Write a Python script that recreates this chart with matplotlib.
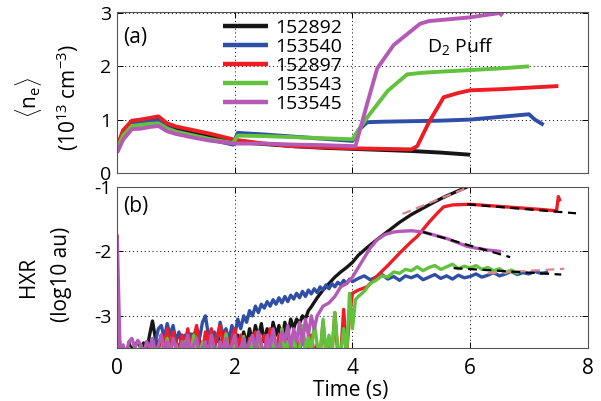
import numpy as np
import matplotlib
matplotlib.use("Agg")
import matplotlib.pyplot as plt

plt.rcParams['font.family'] = ['Open Sans', 'DejaVu Sans']
plt.rcParams['mathtext.fontset'] = 'custom'
plt.rcParams['mathtext.rm'] = 'Open Sans'
plt.rcParams['mathtext.it'] = 'Open Sans'

shots = ['152892', '153540', '152897', '153543', '153545']
colors = ['#161616', '#2f4ea6', '#ee1d25', '#62c23d', '#b559b6']

# ---- panel (a): line averaged density (1e13 cm^-3)
ne_t_152892 = [0, 0.1, 0.25, 0.4, 0.55, 0.7, 0.85, 1.0, 1.3, 1.6, 2.0, 2.5, 3.0, 3.5, 4.0,
               4.5, 5.0, 5.5, 6.0]
ne_v_152892 = [0.42, 0.7, 0.92, 0.95, 0.98, 1.0, 0.88, 0.82, 0.75, 0.68, 0.58, 0.54, 0.5,
               0.47, 0.45, 0.43, 0.41, 0.38, 0.34]

ne_t_153540 = [0, 0.1, 0.25, 0.4, 0.55, 0.7, 0.85, 1.0, 1.3, 1.6, 1.97, 2.05, 2.5, 3.0, 3.5,
               4.0, 4.1, 4.25, 4.5, 5.0, 5.5, 6.0, 6.5, 6.8, 7.0, 7.1, 7.25]
ne_v_153540 = [0.45, 0.72, 0.93, 0.95, 0.97, 0.98, 0.85, 0.78, 0.7, 0.62, 0.53, 0.75, 0.72,
               0.68, 0.64, 0.6, 0.8, 0.95, 0.96, 0.97, 0.98, 1.0, 1.05, 1.08, 1.1, 1.0, 0.9]

ne_t_152897 = [0, 0.1, 0.25, 0.4, 0.55, 0.7, 0.85, 1.0, 1.3, 1.6, 2.0, 2.5, 3.0, 3.5, 4.0,
               4.5, 5.0, 5.1, 5.3, 5.55, 5.8, 6.0, 6.5, 7.0, 7.5]
ne_v_152897 = [0.5, 0.8, 0.98, 1.0, 1.03, 1.06, 0.93, 0.87, 0.8, 0.73, 0.62, 0.55, 0.5, 0.48,
               0.46, 0.45, 0.44, 0.5, 0.95, 1.42, 1.5, 1.55, 1.57, 1.6, 1.63]

ne_t_153543 = [0, 0.1, 0.25, 0.4, 0.55, 0.7, 0.85, 1.0, 1.3, 1.6, 1.97, 2.05, 2.5, 3.0, 3.5,
               4.0, 4.1, 4.25, 4.6, 4.93, 5.2, 5.5, 6.0, 6.5, 7.0]
ne_v_153543 = [0.45, 0.7, 0.88, 0.9, 0.92, 0.93, 0.83, 0.77, 0.7, 0.63, 0.56, 0.7, 0.69, 0.67,
               0.65, 0.63, 0.8, 1.04, 1.54, 1.85, 1.88, 1.9, 1.93, 1.96, 2.0]

ne_t_153545 = [0, 0.1, 0.25, 0.4, 0.55, 0.7, 0.85, 1.0, 1.3, 1.6, 2.0, 2.5, 3.0, 3.5, 4.05,
               4.15, 4.25, 4.42, 4.7, 4.98, 5.15, 5.3, 5.6, 6.0, 6.3, 6.5, 6.55]
ne_v_153545 = [0.38, 0.62, 0.82, 0.83, 0.86, 0.88, 0.78, 0.73, 0.66, 0.6, 0.55, 0.55, 0.53,
               0.52, 0.5, 0.9, 1.3, 1.96, 2.4, 2.65, 2.8, 2.85, 2.88, 2.92, 2.97, 3.0, 2.95]

# ---- panel (b): log10 HXR, noisy part sampled every 0.05 s, then tail points
dt = 0.05
hxr_start = {'152892': 0.2, '153540': 0.6, '152897': 0.7, '153543': 0.05, '153545': 0.05}

hxr_noise_152892 = [-3.42, -3.55, -3.45, -3.4, -3.5, -3.42, -3.55, -3.3, -3.08, -3.35,
                    -3.5, -3.3, -3.45, -3.25, -3.5, -3.35, -3.4, -3.55, -3.3, -3.45,
                    -3.35, -3.5, -3.28, -3.45, -3.38, -3.55, -3.3, -3.45, -3.35, -3.5,
                    -3.3, -3.42, -3.5, -3.32, -3.45, -3.38, -3.5, -3.3, -3.42, -3.25,
                    -3.45, -3.2, -3.4, -3.15, -3.35, -3.12, -3.4, -3.2, -3.45, -3.1,
                    -3.3, -3.15, -3.38, -3.1, -3.3, -3.05, -3.2, -3.05, -3.12, -3.0,
                    -3.05]
hxr_tail_t_152892 = [3.25, 3.3, 3.4, 3.5, 3.6, 3.7, 3.8, 3.9, 4.0, 4.1, 4.25, 4.4, 4.6,
                     4.8, 5.0, 5.2, 5.4, 5.6, 5.8, 6.0]
hxr_tail_v_152892 = [-2.92, -2.86, -2.72, -2.6, -2.5, -2.4, -2.32, -2.25, -2.17, -2.06,
                     -1.94, -1.83, -1.69, -1.55, -1.43, -1.33, -1.23, -1.14, -1.06, -0.98]

hxr_noise_153540 = [-3.6, -3.4, -3.2, -3.15, -3.35, -3.12, -3.3, -3.15, -3.4, -3.25,
                    -3.45, -3.3, -3.5, -3.28, -3.4, -3.2, -3.35, -3.1, -3.0, -3.3,
                    -3.45, -3.25, -3.4, -3.1, -3.3, -3.2, -3.38, -3.15, -3.3, -3.05,
                    -3.2, -3.0, -3.1, -2.92, -3.0, -2.85, -2.95, -2.82, -2.88, -2.78,
                    -2.85, -2.75, -2.82, -2.72, -2.8, -2.7, -2.78, -2.68, -2.74, -2.65,
                    -2.72, -2.62, -2.7, -2.6, -2.66, -2.58, -2.64, -2.55, -2.6, -2.52,
                    -2.58, -2.5, -2.55, -2.48, -2.52, -2.45, -2.5, -2.43, -2.47]
hxr_tail_t_153540 = [4.1, 4.2, 4.3, 4.4, 4.5, 4.6, 4.7, 4.8, 4.9, 5.0, 5.1, 5.2, 5.3, 5.4,
                     5.5, 5.6, 5.7, 5.8, 5.9, 6.0, 6.1, 6.2, 6.3, 6.4, 6.5, 6.6, 6.7, 6.8,
                     6.9, 7.0, 7.1, 7.2, 7.3]
hxr_tail_v_153540 = [-2.42, -2.38, -2.44, -2.4, -2.36, -2.43, -2.39, -2.45, -2.38, -2.41,
                     -2.37, -2.44, -2.4, -2.36, -2.42, -2.38, -2.43, -2.37, -2.41, -2.39,
                     -2.35, -2.4, -2.37, -2.33, -2.38, -2.35, -2.31, -2.36, -2.33, -2.35,
                     -2.31, -2.34, -2.33]

hxr_noise_152897 = [-3.6, -3.3, -3.45, -3.2, -3.5, -3.25, -3.4, -3.6, -3.3, -3.45,
                    -3.2, -3.5, -3.35, -3.15, -3.45, -3.6, -3.25, -3.4, -3.2, -3.5,
                    -3.3, -3.15, -3.45, -3.25, -3.6, -3.35, -3.2, -3.5, -3.3, -3.45,
                    -3.6, -3.35, -3.5, -3.25, -3.6, -3.4, -3.3, -3.55, -3.2, -3.45,
                    -3.6, -3.3, -3.5, -3.6, -3.25, -3.45, -3.6, -3.35, -3.6, -3.2,
                    -3.5, -3.6, -3.3, -3.6, -3.45, -3.6, -3.1, -3.6, -3.4, -3.6,
                    -2.95, -3.6, -3.6, -2.9, -3.6, -3.0]
hxr_tail_t_152897 = [4.0, 4.1, 4.25, 4.4, 4.6, 4.81, 5.0, 5.1, 5.3, 5.45, 5.55, 5.7, 6.0,
                     6.3, 6.6, 6.9, 7.2, 7.45, 7.47, 7.5, 7.52]
hxr_tail_v_152897 = [-2.65, -2.6, -2.55, -2.4, -2.22, -2.02, -1.85, -1.77, -1.55, -1.4,
                     -1.31, -1.28, -1.27, -1.29, -1.31, -1.33, -1.35, -1.37, -1.36, -1.15,
                     -1.2]

hxr_noise_153543 = [-3.42, -3.6, -3.6, -3.5, -3.6, -3.6, -3.6, -3.45, -3.6, -3.6,
                    -3.6, -3.38, -3.6, -3.6, -3.5, -3.6, -3.35, -3.6, -3.6, -3.45,
                    -3.6, -3.6, -3.4, -3.6, -3.6, -3.3, -3.6, -3.6, -3.42, -3.6,
                    -3.6, -3.35, -3.6, -3.5, -3.6, -3.6, -3.28, -3.6, -3.6, -3.45,
                    -3.6, -3.6, -3.32, -3.6, -3.6, -3.4, -3.6, -3.25, -3.6, -3.6,
                    -3.45, -3.6, -3.3, -3.6, -3.6, -3.2, -3.6, -3.4, -3.6, -3.25,
                    -3.6, -3.5, -3.15, -3.6, -3.3, -3.6, -3.1, -3.45, -3.6, -3.05,
                    -3.6, -3.3, -3.6, -2.95, -3.5, -3.6, -3.2, -3.6, -2.65]
hxr_tail_t_153543 = [4.0, 4.05, 4.1, 4.2, 4.3, 4.4, 4.5, 4.6, 4.7, 4.8, 4.9, 5.0, 5.1, 5.2,
                     5.3, 5.4, 5.5, 5.6, 5.7, 5.8, 5.9, 6.0, 6.1, 6.2, 6.3, 6.4, 6.5, 6.6,
                     6.7, 6.8]
hxr_tail_v_153543 = [-3.2, -2.75, -2.7, -2.62, -2.5, -2.45, -2.38, -2.4, -2.32, -2.34,
                     -2.28, -2.3, -2.24, -2.3, -2.25, -2.22, -2.28, -2.24, -2.2, -2.27,
                     -2.23, -2.26, -2.22, -2.28, -2.25, -2.3, -2.27, -2.33, -2.29, -2.34]

hxr_head_t_153545 = [0.0, 0.0]
hxr_head_v_153545 = [-3.6, -1.75]
hxr_noise_153545 = [-3.6, -3.45, -3.6, -3.4, -3.35, -3.5, -3.38, -3.45, -3.6, -3.4,
                    -3.5, -3.35, -3.6, -3.45, -3.3, -3.55, -3.4, -3.6, -3.35, -3.5,
                    -3.6, -3.4, -3.5, -3.3, -3.6, -3.45, -3.35, -3.6, -3.5, -3.4,
                    -3.6, -3.3, -3.5, -3.6, -3.4, -3.55, -3.35, -3.6, -3.45, -3.3,
                    -3.6, -3.5, -3.35, -3.6, -3.4, -3.3, -3.55, -3.25, -3.45, -3.6,
                    -3.3, -3.5, -3.2, -3.45, -3.6, -3.25, -3.4, -3.15, -3.5, -3.2,
                    -3.4, -3.1, -3.45, -3.05, -3.3, -3.0, -3.2]
hxr_tail_t_153545 = [3.4, 3.5, 3.6, 3.7, 3.8, 3.9, 4.0, 4.1, 4.2, 4.3, 4.42, 4.55, 4.7,
                     4.81, 5.0, 5.2, 5.4, 5.6, 5.8, 5.94, 6.1, 6.3, 6.5]
hxr_tail_v_153545 = [-3.0, -2.85, -2.8, -2.7, -2.55, -2.5, -2.4, -2.25, -2.1, -1.95, -1.82,
                     -1.74, -1.7, -1.69, -1.68, -1.7, -1.75, -1.8, -1.87, -1.92, -1.95,
                     -1.98, -2.0]

# fitted decay lines (t0, t1), (v0, v1)
fit_lines = [
    ([4.85, 6.2], [-1.42, -0.92], '#d98590'),   # 152892
    ([6.3, 7.6], [-2.34, -2.27], '#d98590'),    # 153540
    ([5.95, 7.8], [-1.27, -1.41], 'black'),     # 152897
    ([5.72, 7.55], [-2.26, -2.36], 'black'),    # 153543
    ([5.2, 6.68], [-1.7, -2.09], 'black'),      # 153545
]

ne_t = [ne_t_152892, ne_t_153540, ne_t_152897, ne_t_153543, ne_t_153545]
ne_v = [ne_v_152892, ne_v_153540, ne_v_152897, ne_v_153543, ne_v_153545]
noise = [hxr_noise_152892, hxr_noise_153540, hxr_noise_152897, hxr_noise_153543,
         hxr_noise_153545]
tail_t = [hxr_tail_t_152892, hxr_tail_t_153540, hxr_tail_t_152897, hxr_tail_t_153543,
          hxr_tail_t_153545]
tail_v = [hxr_tail_v_152892, hxr_tail_v_153540, hxr_tail_v_152897, hxr_tail_v_153543,
          hxr_tail_v_153545]

fig = plt.figure(figsize=(6.01, 4.01), dpi=100)
ax1 = fig.add_axes([0.195, 0.569, 0.783, 0.401])
ax2 = fig.add_axes([0.195, 0.132, 0.783, 0.402])

handles = []
for i, s in enumerate(shots):
    h, = ax1.plot(ne_t[i], ne_v[i], color=colors[i], lw=2.8, label=s,
                  solid_capstyle='butt')
    handles.append(h)

    nt = hxr_start[s] + dt * np.arange(len(noise[i]))
    t = list(nt) + tail_t[i]
    v = noise[i] + tail_v[i]
    if s == '153545':
        t = hxr_head_t_153545 + t
        v = hxr_head_v_153545 + v
    ax2.plot(t, v, color=colors[i], lw=2.4)

for ft, fv, fc in fit_lines:
    ax2.plot(ft, fv, color=fc, lw=1.6, dashes=(4, 2.5))

for ax in (ax1, ax2):
    ax.set_xlim(0, 8)
    ax.set_xticks([0, 2, 4, 6, 8])
    ax.grid(True, color='black', linestyle=(0, (1, 3)), lw=0.7)
    ax.tick_params(direction='in', top=True, right=True, length=4, width=0.7,
                   labelsize=15)
    ax.tick_params(axis='y', pad=4, labelsize=14)
    ax.tick_params(axis='x', pad=7)
    for sp in ax.spines.values():
        sp.set_linewidth(0.8)
        sp.set_color('#555555')

ax1.set_ylim(0, 3.02)
ax1.set_yticks([0, 1, 2, 3])
ax1.tick_params(labelbottom=False)
ax2.set_ylim(-3.5, -1)
ax2.set_yticks([-3, -2, -1])
ax2.set_yticklabels(['-3', '-2', '-1'])

ax1.text(0.1, 2.55, '(a)', fontsize=15, va='center')
ax2.text(0.1, -1.31, '(b)', fontsize=15, va='center')
ax1.text(5.27, 2.37, 'D$_2$ Puff', fontsize=14, va='center')

ax1.legend(handles=handles, loc='upper left', bbox_to_anchor=(0.208, 1.004),
           frameon=False, fontsize=14, handlelength=2.3, handletextpad=0.37,
           labelspacing=0.05, borderaxespad=0)
for line in ax1.get_legend().get_lines():
    line.set_linewidth(3.2)

fig.text(0.047, 0.758, r'$\langle\mathrm{n_e}\rangle$', rotation=90, fontsize=15,
         ha='center', va='center')
fig.text(0.113, 0.756, r'(10$^{13}$ cm$^{-3}$)', rotation=90, fontsize=15,
         ha='center', va='center')
fig.text(0.047, 0.309, 'HXR', rotation=90, fontsize=15, ha='center', va='center')
fig.text(0.103, 0.317, '(log10 au)', rotation=90, fontsize=15, ha='center', va='center')
fig.text(0.584, 0.027, 'Time (s)', fontsize=15, ha='center', va='center')

fig.savefig('out.png', dpi=100)
